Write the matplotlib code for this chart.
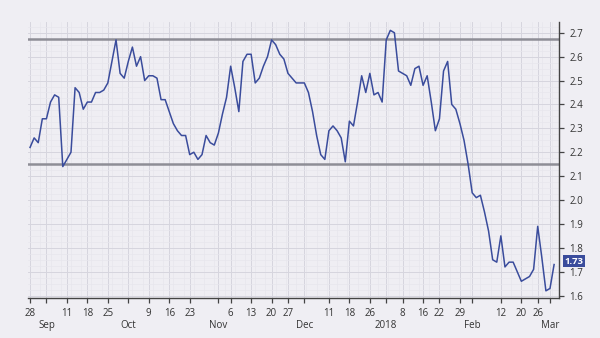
import numpy as np
import pandas as pd
import matplotlib
matplotlib.use("Agg")
import matplotlib.pyplot as plt
import matplotlib.transforms as mtransforms
from matplotlib.ticker import MultipleLocator

plt.rcParams['font.family'] = ['Open Sans', 'DejaVu Sans']

# trading days (NYSE calendar) Aug 28 2017 - Mar 2 2018
holidays = ['2017-09-04', '2017-11-23', '2017-12-25', '2018-01-01', '2018-01-15', '2018-02-19']
dates = pd.bdate_range('2017-08-28', '2018-03-02')
dates = dates[~dates.isin(pd.to_datetime(holidays))]

values = [2.22, 2.26, 2.24, 2.34, 2.34, 2.41, 2.44, 2.43, 2.14, 2.17,
          2.20, 2.47, 2.45, 2.38, 2.41, 2.41, 2.45, 2.45, 2.46, 2.49,
          2.58, 2.67, 2.53, 2.51, 2.58, 2.64, 2.56, 2.60, 2.50, 2.52,
          2.52, 2.51, 2.42, 2.42, 2.37, 2.32, 2.29, 2.27, 2.27, 2.19,
          2.20, 2.17, 2.19, 2.27, 2.24, 2.23, 2.28, 2.36, 2.43, 2.56,
          2.47, 2.37, 2.58, 2.61, 2.61, 2.49, 2.51, 2.56, 2.60, 2.67,
          2.65, 2.61, 2.59, 2.53, 2.51, 2.49, 2.49, 2.49, 2.45, 2.37,
          2.27, 2.19, 2.17, 2.29, 2.31, 2.29, 2.26, 2.16, 2.33, 2.31,
          2.41, 2.52, 2.45, 2.53, 2.44, 2.45, 2.41, 2.67, 2.71, 2.70,
          2.54, 2.53, 2.52, 2.48, 2.55, 2.56, 2.48, 2.52, 2.41, 2.29,
          2.34, 2.54, 2.58, 2.40, 2.38, 2.32, 2.25, 2.15, 2.03, 2.01,
          2.02, 1.95, 1.87, 1.75, 1.74, 1.85, 1.72, 1.74, 1.74, 1.70,
          1.66, 1.67, 1.68, 1.71, 1.89, 1.76, 1.62, 1.63, 1.73]

tick_dates = ['2017-08-28', '2017-09-01', '2017-09-11', '2017-09-18', '2017-09-25',
              '2017-10-02', '2017-10-09', '2017-10-16', '2017-10-23', '2017-11-01',
              '2017-11-06', '2017-11-13', '2017-11-20', '2017-11-27', '2017-12-01',
              '2017-12-11', '2017-12-18', '2017-12-26', '2018-01-02', '2018-01-08',
              '2018-01-16', '2018-01-22', '2018-01-29', '2018-02-01', '2018-02-12',
              '2018-02-20', '2018-02-26', '2018-03-01']
day_labels = ['28', '', '11', '18', '25', '', '9', '16', '23', '',
              '6', '13', '20', '27', '', '11', '18', '26', '', '8',
              '16', '22', '29', '', '12', '20', '26', '']
month_dates = ['2017-09-01', '2017-10-02', '2017-11-01', '2017-12-01',
               '2018-01-02', '2018-02-01', '2018-03-01']
month_labels = ['Sep', 'Oct', 'Nov', 'Dec', '2018', 'Feb', 'Mar']

upper_level = 2.675
lower_level = 2.15
last_value = 1.73

bg = '#efeef3'
txt = '#333333'
fig = plt.figure(figsize=(6, 3.38), dpi=100, facecolor=bg)
ax = fig.add_axes([28 / 600, 1 - 298 / 338, 531 / 600, 276 / 338])
ax.set_facecolor(bg)

x = np.arange(len(dates))
ax.plot(x, values, color='#3a4c9c', lw=1.1, zorder=3)

ax.axhline(upper_level, color='#8e8e96', lw=1.8, zorder=2)
ax.axhline(lower_level, color='#8e8e96', lw=1.8, zorder=2)

ax.set_xlim(-0.5, 129.2)
ax.set_ylim(1.59, 2.745)

tick_pos = [dates.get_loc(pd.Timestamp(d)) for d in tick_dates]
ax.set_xticks(tick_pos)
ax.set_xticklabels(day_labels, fontsize=7, color=txt)
ax.xaxis.set_minor_locator(MultipleLocator(2.5))

# month labels on a second row under their ticks
trans = mtransforms.blended_transform_factory(ax.transData, ax.transAxes)
for d, lab in zip(month_dates, month_labels):
    ax.text(dates.get_loc(pd.Timestamp(d)), -0.098, lab, transform=trans,
            ha='center', va='center', fontsize=7, color=txt)

ax.yaxis.tick_right()
yt = np.arange(1.6, 2.71, 0.1)
ax.set_yticks(yt)
ax.set_yticklabels([f'{v:.1f}' for v in yt], fontsize=7, color=txt)
ax.yaxis.set_minor_locator(MultipleLocator(0.025))

ax.tick_params(axis='both', which='major', length=3.5, width=0.9, color='#444444', pad=4)
ax.tick_params(axis='both', which='minor', length=0)

ax.grid(which='major', color='#d6d5de', lw=0.7)
ax.grid(which='minor', color='#e7e6ed', lw=0.5)
ax.set_axisbelow(True)

for s in ['top', 'left']:
    ax.spines[s].set_visible(False)
for s in ['bottom', 'right']:
    ax.spines[s].set_color('#444444')
    ax.spines[s].set_linewidth(1.0)

# last value tag, nudged up a little so the 1.7 label stays readable
ax.annotate(f'{last_value:.2f}', xy=(1.0, last_value), xycoords=('axes fraction', 'data'),
            xytext=(4, 2.5), textcoords='offset points', va='center', ha='left',
            fontsize=6.8, color='white', fontweight='bold',
            bbox=dict(boxstyle='square,pad=0.2', fc='#3a4c9c', ec='none'))

fig.savefig('out.png', dpi=100, facecolor=bg)
